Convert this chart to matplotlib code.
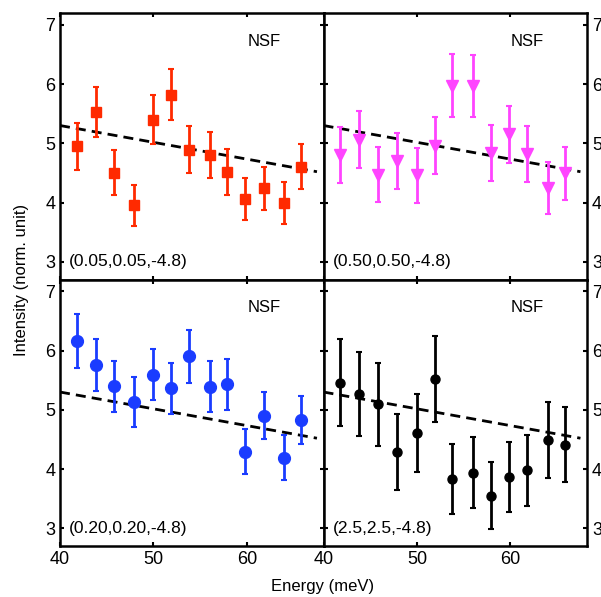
import numpy as np
import matplotlib
matplotlib.use("Agg")
import matplotlib.pyplot as plt

plt.rcParams['font.family'] = ['Liberation Sans', 'DejaVu Sans']

energy = [41.8, 43.8, 45.8, 47.9, 50.0, 51.9, 53.8, 56.0, 57.9, 59.8, 61.8, 64.0, 65.8]

# (0.05,0.05,-4.8)
int_a = [4.95, 5.53, 4.50, 3.95, 5.40, 5.82, 4.89, 4.80, 4.51, 4.06, 4.24, 3.99, 4.60]
err_a = [0.40, 0.42, 0.38, 0.35, 0.42, 0.43, 0.40, 0.39, 0.39, 0.35, 0.36, 0.35, 0.38]

# (0.50,0.50,-4.8)
int_b = [4.80, 5.06, 4.47, 4.70, 4.46, 4.96, 5.97, 5.97, 4.84, 5.15, 4.82, 4.24, 4.49]
err_b = [0.47, 0.48, 0.46, 0.47, 0.46, 0.48, 0.53, 0.52, 0.47, 0.48, 0.47, 0.44, 0.45]

# (0.20,0.20,-4.8)
int_c = [6.16, 5.76, 5.40, 5.13, 5.59, 5.36, 5.90, 5.39, 5.43, 4.29, 4.90, 4.19, 4.83]
err_c = [0.46, 0.44, 0.43, 0.42, 0.43, 0.43, 0.44, 0.43, 0.43, 0.38, 0.40, 0.38, 0.40]

# (2.5,2.5,-4.8)
int_d = [5.46, 5.27, 5.09, 4.29, 4.61, 5.52, 3.83, 3.94, 3.55, 3.87, 3.98, 4.49, 4.41]
err_d = [0.73, 0.71, 0.70, 0.64, 0.66, 0.73, 0.59, 0.60, 0.57, 0.59, 0.60, 0.64, 0.63]

# linear background, same in every panel
fit_x = [40.0, 67.5]
fit_y = [5.30, 4.52]

panels = [
    (int_a, err_a, '#ff2a00', 's', 7.5, '(0.05,0.05,-4.8)'),
    (int_b, err_b, '#ff44ff', 'v', 9, '(0.50,0.50,-4.8)'),
    (int_c, err_c, '#1a3cff', 'o', 8.5, '(0.20,0.20,-4.8)'),
    (int_d, err_d, 'black', 'o', 6.5, '(2.5,2.5,-4.8)'),
]

fig, axes = plt.subplots(2, 2, figsize=(6.01, 5.97), dpi=100)
fig.subplots_adjust(left=60/601, right=587/601, top=1-13/597, bottom=1-546/597,
                    wspace=0, hspace=0)

for i, ax in enumerate(axes.flat):
    y, e, col, mk, ms, lab = panels[i]
    ax.plot(fit_x, fit_y, color='black', lw=2, dashes=(3.6, 2.2), zorder=1)
    ax.errorbar(energy, y, yerr=e, fmt=mk, color=col, ms=ms, elinewidth=2,
                capsize=2.5, capthick=1.5, zorder=3)
    ax.set_xlim(40, 68.2)
    ax.set_ylim(2.7, 7.2)
    ax.set_xticks([40, 50, 60])
    ax.set_yticks([3, 4, 5, 6, 7])
    ax.tick_params(direction='in', top=True, right=True, length=3, width=1.5,
                   labelsize=13)
    for s in ax.spines.values():
        s.set_linewidth(1.8)
    ax.text(61.8, 6.72, 'NSF', ha='center', va='center', fontsize=12)
    ax.text(41.0, 3.0, lab, ha='left', va='center', fontsize=12.5)
    row, colidx = divmod(i, 2)
    if row == 0:
        ax.tick_params(labelbottom=False)
    if colidx == 1:
        ax.tick_params(labelleft=False, labelright=True)

fig.text(22/601, 1-280/597, 'Intensity (norm. unit)', rotation=90,
         ha='center', va='center', fontsize=12)
fig.text(323/601, 1-586/597, 'Energy (meV)', ha='center', va='center', fontsize=12)

fig.savefig('out.png', dpi=100)
